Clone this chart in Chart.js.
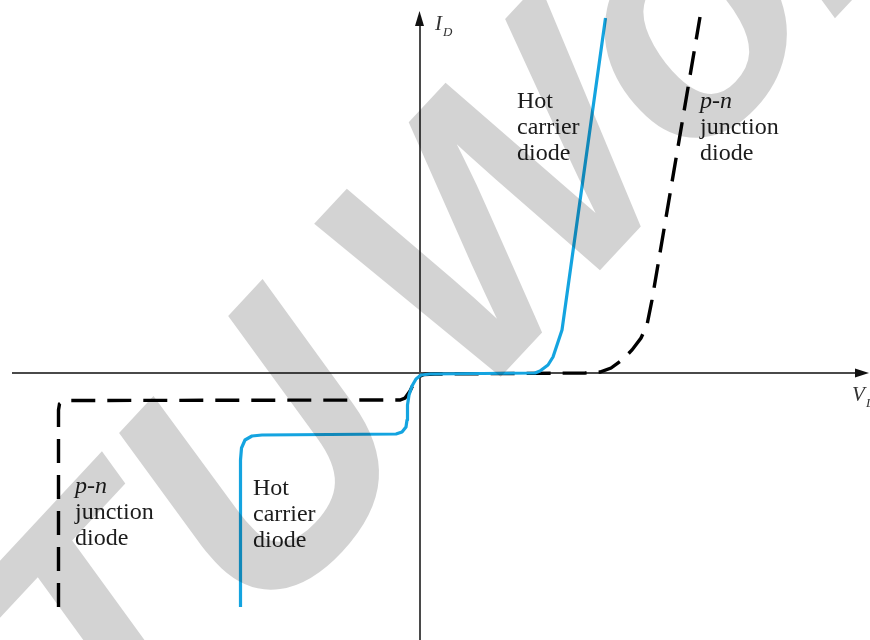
<!DOCTYPE html>
<html><head><meta charset="utf-8">
<script src="https://cdn.jsdelivr.net/npm/chart.js@4.4.1/dist/chart.umd.min.js"></script>
<style>html,body{margin:0;padding:0;background:#fff;}canvas{display:block;}</style>
</head><body>
<canvas id="c" width="870" height="640"></canvas>
<script>
// Axis ranges (arbitrary units)
const vRange = [-42, 45];
const iRange = [-26.7, 37.3];

// Hot carrier (Schottky) diode curve
const hotV = [-17.95,-17.95,-17.85,-17.5,-16.8,-15.8,-2.4,-1.8,-1.4,-1.3,-1.25,-1.1,-0.8,-0.4,0.1,1.0,11.5,12.0,12.8,13.3,14.2,18.55];
const hotI = [-23.4,-8.7,-7.5,-6.7,-6.3,-6.2,-6.1,-5.9,-5.4,-4.7,-3.2,-2.2,-1.3,-0.6,-0.2,-0.1,0,0.2,0.8,1.6,4.3,35.5];

// p-n junction diode curve
const pnV = [-36.15,-36.15,-36.05,-35.7,-35.0,-2.0,-1.5,-1.0,-0.6,-0.2,0.4,1.5,16.5,18.0,19.1,20.2,21.2,22.1,22.7,23.2,28.0];
const pnI = [-23.4,-3.7,-3.1,-2.8,-2.75,-2.7,-2.5,-1.8,-1.0,-0.4,-0.15,-0.1,0,0.1,0.5,1.3,2.3,3.5,4.8,7.3,35.6];

// Curve annotations
const noteLines = [
  {lines:['Hot','carrier','diode'], italicFirst:false},
  {lines:['p-n','junction','diode'], italicFirst:true},
  {lines:['p-n','junction','diode'], italicFirst:true},
  {lines:['Hot','carrier','diode'], italicFirst:false}
];
const noteAnchors = [[9.7,26.5],[28.0,26.5],[-34.5,-12.0],[-16.7,-12.2]];

// Watermark letters
const watermarkLetters = ['T','U','W','o','r'];
const watermarkOffsets = [-514,-300,10,330,535];

const toPts = (xs, ys) => xs.map((x, k) => ({x, y: ys[k]}));

const bgPlugin = {
  id: 'bg',
  beforeDraw(chart) {
    const c = chart.ctx;
    c.save(); c.fillStyle = '#fff'; c.fillRect(0, 0, chart.width, chart.height); c.restore();
  }
};

const axesPlugin = {
  id: 'axesArrows',
  beforeDatasetsDraw(chart) {
    const c = chart.ctx, xs = chart.scales.x, ys = chart.scales.y;
    const x0 = xs.getPixelForValue(0), y0 = ys.getPixelForValue(0);
    c.save();
    c.strokeStyle = '#4a4a4a'; c.lineWidth = 2;
    c.beginPath();
    c.moveTo(12, y0); c.lineTo(chart.width - 6, y0);
    c.moveTo(x0, chart.height); c.lineTo(x0, 16);
    c.stroke();
    c.fillStyle = '#111';
    c.beginPath(); // up arrow
    c.moveTo(x0 - 0.5, 11); c.lineTo(x0 - 5, 26); c.lineTo(x0 + 4, 26); c.closePath(); c.fill();
    c.beginPath(); // right arrow
    c.moveTo(chart.width - 1, y0); c.lineTo(chart.width - 15, y0 - 4.5); c.lineTo(chart.width - 15, y0 + 4.5); c.closePath(); c.fill();
    // axis labels
    c.fillStyle = '#333';
    c.font = 'italic 21px "Liberation Serif"';
    c.textBaseline = 'alphabetic';
    c.fillText('I', x0 + 15, 30);
    c.font = 'italic 13px "Liberation Serif"';
    c.fillText('D', x0 + 23, 36);
    c.font = 'italic 21px "Liberation Serif"';
    c.fillText('V', chart.width - 18, 401);
    c.font = 'italic 13px "Liberation Serif"';
    c.fillText('D', chart.width - 4, 407);
    c.restore();
  },
  afterDatasetsDraw(chart) {
    const c = chart.ctx, xs = chart.scales.x, ys = chart.scales.y;
    c.save();
    c.fillStyle = '#1c1c1c';
    c.textBaseline = 'alphabetic';
    noteLines.forEach((n, k) => {
      const px = xs.getPixelForValue(noteAnchors[k][0]);
      const py = ys.getPixelForValue(noteAnchors[k][1]);
      n.lines.forEach((t, j) => {
        c.font = (n.italicFirst && j === 0 ? 'italic ' : '') + '24px "Liberation Serif"';
        c.fillText(t, px, py + j * 26);
      });
    });
    c.restore();
  },
  afterDraw(chart) {
    const c = chart.ctx;
    c.save();
    c.globalCompositeOperation = 'multiply';
    c.fillStyle = '#d3d3d3';
    c.translate(466, 414);
    c.rotate(-47 * Math.PI / 180);
    c.font = 'italic bold 350px "Liberation Sans"';
    c.textBaseline = 'alphabetic';
    watermarkLetters.forEach((ch, k) => c.fillText(ch, watermarkOffsets[k], 0));
    c.restore();
  }
};

new Chart(document.getElementById('c'), {
  type: 'scatter',
  data: {
    datasets: [
      {label: 'Hot carrier diode', data: toPts(hotV, hotI), showLine: true, borderColor: '#14a4e0', borderWidth: 3.2, pointRadius: 0, tension: 0, fill: false, borderJoinStyle: 'round'},
      {label: 'p-n junction diode', data: toPts(pnV, pnI), showLine: true, borderColor: '#000', borderWidth: 3.4, borderDash: [24, 12], pointRadius: 0, tension: 0, fill: false}
    ]
  },
  options: {
    responsive: false, animation: false, devicePixelRatio: 1,
    layout: {padding: 0},
    plugins: {legend: {display: false}, tooltip: {enabled: false}},
    scales: {
      x: {type: 'linear', min: vRange[0], max: vRange[1], display: false},
      y: {type: 'linear', min: iRange[0], max: iRange[1], display: false}
    }
  },
  plugins: [bgPlugin, axesPlugin]
});
</script>
</body></html>
